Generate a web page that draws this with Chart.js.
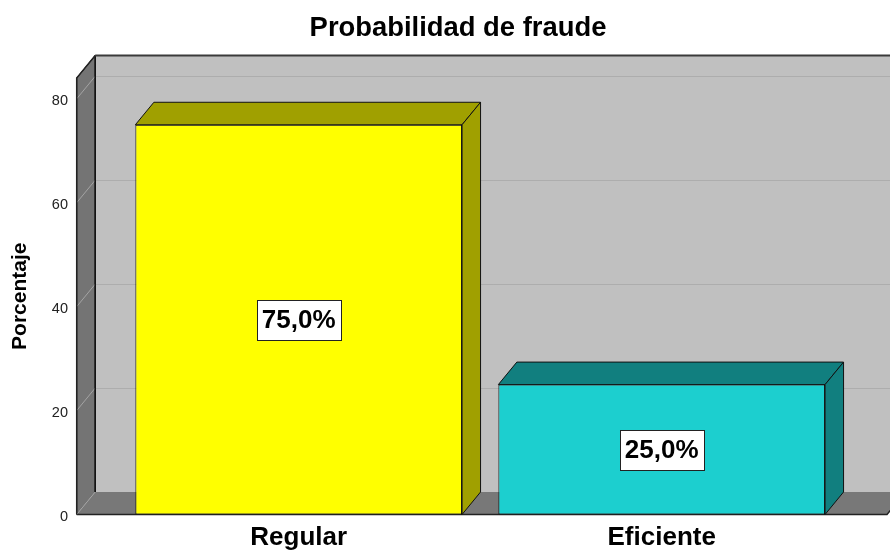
<!DOCTYPE html>
<html>
<head>
<meta charset="utf-8">
<title>Probabilidad de fraude</title>
<script src="https://cdn.jsdelivr.net/npm/chart.js@4"></script>
<style>
  html, body { margin: 0; padding: 0; background: #fff; }
</style>
</head>
<body>
<canvas id="chart" width="890" height="553"></canvas>
<script>
  const categories = ['Regular', 'Eficiente'];
  const percentages = [75.0, 25.0];
  const frontColors = ['#ffff00', '#1ccfcf'];
  const shadeColors = ['#a0a000', '#117f7f'];
  const yTicks = [0, 20, 40, 60, 80];
  const yMax = 84;
  const chartTitle = 'Probabilidad de fraude';

  const FONT = '"Liberation Sans", Arial, sans-serif';
  Chart.defaults.font.family = FONT;

  // depth of the fake 3d box and how far the walls reach past the bars
  const DX = 18.5, DY = 22.5;
  const WALL_LEFT = 40.5, WALL_RIGHT = 43.8;

  const line = (ctx, pts, color, width) => {
    ctx.beginPath();
    ctx.moveTo(pts[0][0], pts[0][1]);
    for (let i = 1; i < pts.length; i++) ctx.lineTo(pts[i][0], pts[i][1]);
    ctx.strokeStyle = color;
    ctx.lineWidth = width;
    ctx.stroke();
  };

  const poly = (ctx, pts, fill, stroke) => {
    ctx.beginPath();
    ctx.moveTo(pts[0][0], pts[0][1]);
    for (let i = 1; i < pts.length; i++) ctx.lineTo(pts[i][0], pts[i][1]);
    ctx.closePath();
    ctx.fillStyle = fill;
    ctx.fill();
    if (stroke) {
      ctx.strokeStyle = stroke;
      ctx.lineWidth = 1;
      ctx.stroke();
    }
  };

  const box3d = {
    id: 'box3d',
    beforeDatasetsDraw(chart) {
      const {ctx, chartArea: a, scales: {y}} = chart;
      const L = a.left - WALL_LEFT, R = a.right + WALL_RIGHT;
      const top = y.getPixelForValue(yMax), bot = y.getPixelForValue(0);
      const W = chart.width + 5;
      ctx.save();

      // back wall with its grid
      ctx.fillStyle = '#c0c0c0';
      ctx.fillRect(L + DX, top - DY, W - L - DX, bot - top);
      y.ticks.forEach(t => {
        const py = Math.round(y.getPixelForValue(t.value) - DY) + 0.5;
        line(ctx, [[L + DX, py], [W, py]], '#adadad', 1);
      });

      // left wall
      poly(ctx, [[L, bot], [L, top], [L + DX, top - DY], [L + DX, bot - DY]], '#747474', '#111');
      y.ticks.forEach(t => {
        const py = y.getPixelForValue(t.value);
        line(ctx, [[L, py], [L + DX, py - DY]], '#a4a4a4', 1);
      });

      // floor
      poly(ctx, [[L, bot], [L + DX, bot - DY], [R + DX, bot - DY], [R, bot]], '#787878');
      line(ctx, [[L, bot], [R, bot], [R + DX, bot - DY]], '#222', 1.5);
      line(ctx, [[L, bot], [L + DX, bot - DY]], '#a4a4a4', 1);
      line(ctx, [[L + DX, top - DY], [L + DX, bot - DY]], '#111', 1.5);
      line(ctx, [[L, bot], [L, top], [L + DX, top - DY]], '#222', 1.5);

      // top edge of the back wall
      line(ctx, [[L + DX, top - DY], [W, top - DY]], '#3a3a3a', 2);
      ctx.restore();
    },
    afterDatasetsDraw(chart) {
      const {ctx} = chart;
      const meta = chart.getDatasetMeta(0);
      ctx.save();
      meta.data.forEach((bar, i) => {
        const {x, y, base, width} = bar.getProps(['x', 'y', 'base', 'width'], true);
        const l = x - width / 2, r = x + width / 2;
        poly(ctx, [[l, y], [l + DX, y - DY], [r + DX, y - DY], [r, y]], shadeColors[i], '#111');
        poly(ctx, [[r, y], [r + DX, y - DY], [r + DX, base - DY], [r, base]], shadeColors[i], '#111');

        // value label in a white box
        const text = percentages[i].toFixed(1).replace('.', ',') + '%';
        ctx.font = 'bold 26px ' + FONT;
        const tw = ctx.measureText(text).width;
        const bw = Math.round(tw + 10), bh = 40;
        const cx = x, cy = (y + base) / 2;
        const bx = Math.round(cx - bw / 2) + 0.5, by = Math.round(cy - bh / 2) + 0.5;
        ctx.fillStyle = '#fff';
        ctx.fillRect(bx, by, bw, bh);
        ctx.strokeStyle = '#222';
        ctx.lineWidth = 1;
        ctx.strokeRect(bx, by, bw, bh);
        ctx.fillStyle = '#000';
        ctx.textAlign = 'center';
        ctx.textBaseline = 'middle';
        ctx.fillText(text, cx, cy + 1);
      });
      ctx.restore();
    },
    afterDraw(chart) {
      const {ctx} = chart;
      ctx.save();
      ctx.font = 'bold 27.4px ' + FONT;
      ctx.fillStyle = '#000';
      ctx.textAlign = 'center';
      ctx.textBaseline = 'middle';
      ctx.fillText(chartTitle, 458, 28);
      ctx.restore();
    }
  };

  new Chart(document.getElementById('chart'), {
    type: 'bar',
    data: {
      labels: categories,
      datasets: [{
        data: percentages,
        backgroundColor: frontColors,
        borderColor: '#111',
        borderWidth: 1,
        borderSkipped: false,
        categoryPercentage: 1,
        barPercentage: 0.9
      }]
    },
    options: {
      responsive: false,
      animation: false,
      layout: { padding: { left: 7.9, right: 46.8, top: 78, bottom: 2.5 } },
      plugins: {
        legend: { display: false },
        title: { display: false },
        tooltip: { enabled: false }
      },
      scales: {
        x: {
          afterFit: scale => { scale.height = 36; },
          grid: { display: false, drawTicks: false },
          border: { display: false },
          ticks: {
            color: '#000',
            padding: 10,
            font: { size: 26, weight: 'bold', lineHeight: 1 }
          }
        },
        y: {
          min: 0,
          max: yMax,
          afterFit: scale => {
            scale.width = 109.3;
            scale.paddingTop = 0;
            scale.paddingBottom = 0;
          },
          afterBuildTicks: scale => { scale.ticks = yTicks.map(v => ({ value: v })); },
          grid: { display: false, drawTicks: false },
          border: { display: false },
          ticks: {
            color: '#222',
            padding: 49.2,
            labelOffset: 2.5,
            font: { size: 14.5 }
          },
          title: {
            display: true,
            text: 'Porcentaje',
            color: '#000',
            font: { size: 21, weight: 'bold', lineHeight: 1.2 },
            padding: { top: 0, bottom: 19.3 }
          }
        }
      }
    },
    plugins: [box3d]
  });
</script>
</body>
</html>
